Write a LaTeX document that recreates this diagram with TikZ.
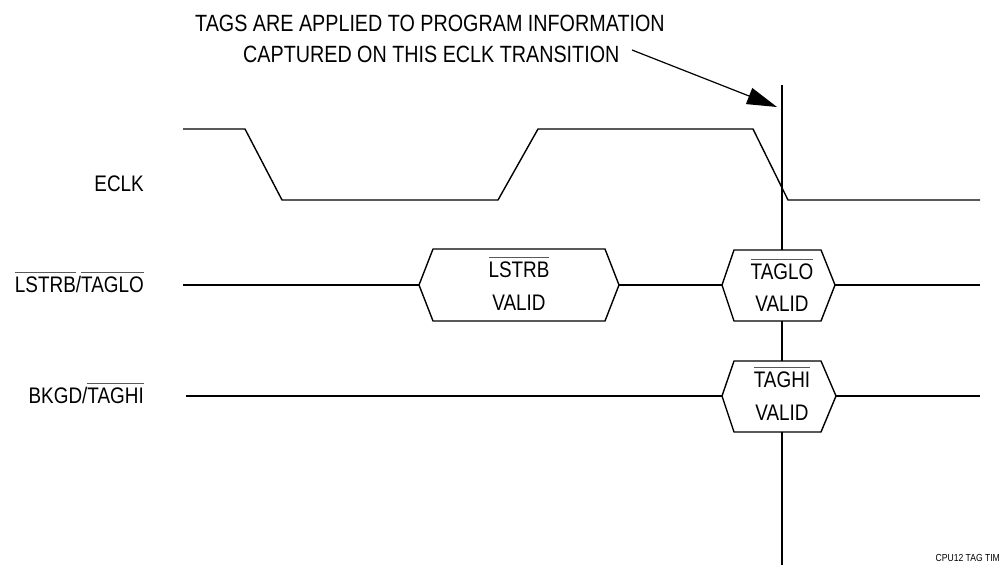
\documentclass[tikz,border=0pt]{standalone}
\usepackage{fontspec}
\setmainfont{Liberation Sans}[FakeStretch=0.84]
\usetikzlibrary{arrows.meta}
\newcommand\ovl[1]{\leavevmode\setbox0\hbox{#1}\rlap{\raisebox{\dimexpr\ht0+3pt\relax}{\color{black!65}\rule{\wd0}{1pt}}}\box0}
\begin{document}
\begin{tikzpicture}[x=1pt,y=-1pt,
  wave/.style={line width=1.4pt,line join=round},
  lbl/.style={inner sep=0pt,font=\fontsize{22.5}{26}\selectfont,anchor=base east},
  htxt/.style={inner sep=0pt,font=\fontsize{22.5}{26}\selectfont,anchor=base},
  ttl/.style={inner sep=0pt,font=\fontsize{23.5}{27}\selectfont,anchor=base west}]
\useasboundingbox (0,0) rectangle (1003,569);
% title
\node[ttl] (t1) at (195,32) {TAGS ARE APPLIED TO PROGRAM INFORMATION};
\node[ttl] (t2) at (243,63) {CAPTURED ON THIS ECLK TRANSITION};
\coordinate (astart) at (632,50);
\coordinate (atip) at (777,107);
\draw[line width=1.2pt,-{Triangle[length=30pt,width=17pt]}] (astart) -- (atip);
% labels
\node[lbl] (eclk) at (144,192) {ECLK};
\node[lbl] (lst) at (144,292) {\ovl{LSTRB}/\ovl{TAGLO}};
\node[lbl] (bkgd) at (144,403) {BKGD/\ovl{TAGHI}};
% ECLK wave
\draw[wave] (183,129) -- (245,129) -- (282,200) -- (498,200) -- (538,129) -- (753,129) -- (788,200) -- (980,200);
% hexagons
\coordinate (h1w) at (419,285); \coordinate (h1e) at (619,285);
\draw[wave] (h1w) -- (433,249) -- (605,249) -- (h1e) -- (605,321) -- (433,321) -- cycle;
\node[htxt] (h1a) at (519,277) {\ovl{LSTRB}};
\node[htxt] (h1b) at (519,310) {VALID};
\coordinate (h2w) at (722,285); \coordinate (h2e) at (835,285);
\coordinate (h2n) at (782,250); \coordinate (h2s) at (782,321);
\draw[wave] (h2w) -- (734,250) -- (821,250) -- (h2e) -- (821,321) -- (734,321) -- cycle;
\node[htxt] (h2a) at (782,279) {\ovl{TAGLO}};
\node[htxt] (h2b) at (782,311) {VALID};
\coordinate (h3w) at (722,396); \coordinate (h3e) at (836,396);
\coordinate (h3n) at (782,361); \coordinate (h3s) at (782,432);
\draw[wave] (h3w) -- (734,361) -- (821,361) -- (h3e) -- (821,432) -- (734,432) -- cycle;
\node[htxt] (h3a) at (782,387) {\ovl{TAGHI}};
\node[htxt] (h3b) at (782,420) {VALID};
% signal lines
\coordinate (l1s) at (183,285); \coordinate (l1e) at (980,285);
\draw[wave] (l1s) -- (h1w);
\draw[wave] (h1e) -- (h2w);
\draw[wave] (h2e) -- (l1e);
\coordinate (l2s) at (186,396); \coordinate (l2e) at (980,396);
\draw[wave] (l2s) -- (h3w);
\draw[wave] (h3e) -- (l2e);
% vertical marker
\coordinate (vtop) at (782,85); \coordinate (vbot) at (782,565);
\draw[wave] (vtop) -- (h2n);
\draw[wave] (h2s) -- (h3n);
\draw[wave] (h3s) -- (vbot);
% footer
\node[inner sep=0pt,anchor=base east,font=\fontsize{10.2}{12}\selectfont] (foot) at (1000,561) {CPU12 TAG TIM};
\end{tikzpicture}
\end{document}
